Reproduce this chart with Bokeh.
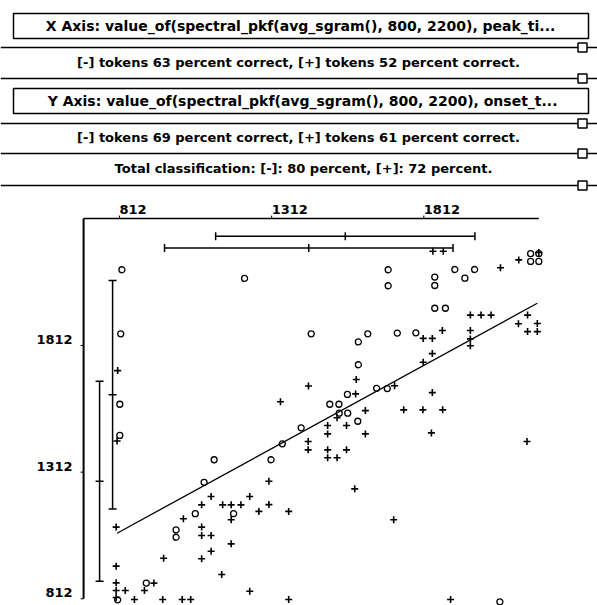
import math
from bokeh.plotting import figure
from bokeh.models import Range1d, Whisker, TeeHead, ColumnDataSource
from bokeh.core.properties import value
from bokeh.embed import file_html
from bokeh.resources import INLINE

# ---------------- data ----------------
header_texts = [
    "X Axis:  value_of(spectral_pkf(avg_sgram(), 800, 2200), peak_ti...",
    "[-] tokens 63 percent correct, [+] tokens 52 percent correct.",
    "Y Axis:  value_of(spectral_pkf(avg_sgram(), 800, 2200), onset_t...",
    "[-] tokens 69 percent correct, [+] tokens 61 percent correct.",
    "Total classification: [-]: 80 percent, [+]: 72 percent.",
]
tick_values = [812, 1312, 1812]
tick_labels = ["812", "1312", "1812"]

circle_x = [820, 816, 813, 813, 1223, 1695, 1695, 1442, 1597, 1628, 1725, 1597, 1561, 1657,
            1692, 1503, 1533, 1534, 1562, 1595, 1409, 1347, 1310, 1123, 1090, 1061, 1187, 998,
            998, 900, 806, 2062, 1786, 1848, 1848, 1848, 1883, 1914, 1947, 1979, 2163, 2190,
            2163, 2190]
circle_y = [2111, 1858, 1580, 1457, 2077, 2111, 2048, 1858, 1826, 1858, 1861, 1736, 1619, 1643,
            1642, 1580, 1580, 1545, 1545, 1513, 1487, 1424, 1361, 1361, 1272, 1148, 1148, 1084,
            1055, 874, 808, 800, 1862, 2082, 2049, 1959, 1959, 2112, 2078, 2112, 2175, 2175,
            2144, 2144]

plus_x = [806, 804, 1590, 1433, 1341, 1588, 1716, 1842, 1876, 2124, 2190, 2064, 1965, 2000,
          2033, 2153, 2123, 2185, 2153, 2185, 1810, 1840, 1873, 1965, 1965, 1965, 1840, 1810,
          1840, 1620, 1527, 1496, 1558, 1496, 1620, 1432, 1432, 1496, 1558, 1496, 1527, 1303,
          1585, 1240, 1211, 1303, 1270, 1368, 1713, 1240, 1368, 1746, 1809, 1874, 1837, 2151,
          1900, 1113, 1082, 1151, 1179, 1179, 1022, 801, 1082, 1082, 1113, 1179, 1113, 957,
          1082, 801, 1148, 801, 925, 801, 831, 894, 801, 861, 954, 1018, 1046]
plus_y = [1713, 1435, 1678, 1652, 1590, 1621, 1653, 2184, 2184, 2150, 2179, 2119, 1932, 1932,
          1932, 1932, 1898, 1899, 1867, 1867, 1840, 1840, 1871, 1871, 1838, 1811, 1780, 1746,
          1626, 1555, 1527, 1496, 1496, 1463, 1463, 1433, 1400, 1400, 1400, 1369, 1369, 1276,
          1246, 1216, 1183, 1184, 1157, 1157, 1124, 842, 809, 1558, 1558, 1558, 1467, 1433,
          809, 1216, 1183, 1183, 1183, 1124, 1128, 1095, 1095, 1062, 1062, 1029, 1000, 972,
          970, 941, 908, 875, 874, 845, 845, 845, 817, 809, 809, 809, 809]

fit_x = [804, 2185]
fit_y = [1071, 1979]

x_bar_mean = [1554, 1434]
x_bar_sd = [426, 474]
y_bar_mean = [1618, 1276]
y_bar_sd = [451, 395]

# plotted extent of the axes (data units)
axis_x_min, axis_x_max = 694, 2190
axis_y_min, axis_y_max = 812, 2313

# ---------------- layout ----------------
W, H = 597, 605
UX = 3.2862   # data units per pixel (x)
UY = 3.948    # data units per pixel (y)
X_ORIG_PX, Y_ORIG_PX = 119, 598.3   # pixel location of value 812 on each axis
XS = 812 - X_ORIG_PX * UX
XE = XS + W * UX
YE = 812 + Y_ORIG_PX * UY
YS = YE - H * UY

p = figure(width=W, height=H, x_range=Range1d(XS, XE), y_range=Range1d(YS, YE),
           x_axis_location=None, y_axis_location=None, toolbar_location=None,
           output_backend="svg", min_border=0)
p.grid.visible = False
p.outline_line_color = None
p.background_fill_color = "white"
p.border_fill_color = "white"
p.extra_x_ranges = {"px": Range1d(0, W)}
p.extra_y_ranges = {"py": Range1d(H, 0)}

FONT = value("DejaVu Sans")

# ---------------- header panel (pixel space) ----------------
p.quad(left=[13, 13], right=[588, 588], top=[13, 88], bottom=[38, 113],
       fill_color="white", line_color="black", line_width=1.5,
       x_range_name="px", y_range_name="py")
rule_y = [47, 78, 123, 153, 185]
p.segment(x0=[0] * 5, x1=[W] * 5, y0=rule_y, y1=rule_y, line_color="black",
          line_width=1.5, x_range_name="px", y_range_name="py")
p.scatter(x=[582] * 5, y=rule_y, marker="square", size=9, fill_color="white",
          line_color="black", line_width=1.5, x_range_name="px", y_range_name="py")
p.text(x=[302.5, 304.5], y=[25.5, 100.5], text=[header_texts[0], header_texts[2]],
       text_align="center", text_baseline="middle", text_font=FONT,
       text_font_style="bold", text_font_size="14px", text_color="black",
       x_range_name="px", y_range_name="py")
p.text(x=[298, 298, 303], y=[62, 137, 168],
       text=[header_texts[1], header_texts[3], header_texts[4]],
       text_align="center", text_baseline="middle", text_font=FONT,
       text_font_style="bold", text_font_size="13px", text_color="black",
       x_range_name="px", y_range_name="py")

# ---------------- axes ----------------
p.segment(x0=[axis_x_min], y0=[axis_y_max], x1=[axis_x_max], y1=[axis_y_max],
          line_color="black", line_width=1.5)
p.segment(x0=[axis_x_min], y0=[axis_y_max], x1=[axis_x_min], y1=[axis_y_min],
          line_color="black", line_width=2)
# tick marks (3 px)
p.segment(x0=tick_values, y0=[axis_y_max] * 3, x1=tick_values,
          y1=[axis_y_max + 3 * UY] * 3, line_color="black", line_width=1)
p.segment(x0=[axis_x_min] * 3, y0=tick_values, x1=[axis_x_min - 3 * UX] * 3,
          y1=tick_values, line_color="black", line_width=1)
# tick labels
p.text(x=tick_values, y=[axis_y_max] * 3, text=tick_labels, y_offset=-5,
       text_align="left", text_baseline="bottom", text_font=FONT,
       text_font_style="bold", text_font_size="13px", text_color="black")
p.text(x=[axis_x_min] * 3, y=tick_values, text=tick_labels, x_offset=-11, y_offset=-6,
       text_align="right", text_baseline="middle", text_font=FONT,
       text_font_style="bold", text_font_size="13px", text_color="black")

# ---------------- mean / sd bars ----------------
vbar_x = [axis_x_min + 29 * UX, axis_x_min + 16 * UX]
hbar_y = [axis_y_max - 17.7 * UY, axis_y_max - 29.3 * UY]
vsrc = ColumnDataSource(dict(base=vbar_x,
                             lower=[m - s for m, s in zip(y_bar_mean, y_bar_sd)],
                             upper=[m + s for m, s in zip(y_bar_mean, y_bar_sd)]))
hsrc = ColumnDataSource(dict(base=hbar_y,
                             lower=[m - s for m, s in zip(x_bar_mean, x_bar_sd)],
                             upper=[m + s for m, s in zip(x_bar_mean, x_bar_sd)]))
for src, dim in ((vsrc, "height"), (hsrc, "width")):
    p.add_layout(Whisker(source=src, base="base", lower="lower", upper="upper",
                         dimension=dim, line_color="black", line_width=1.5,
                         upper_head=TeeHead(size=8, line_color="black", line_width=1.5),
                         lower_head=TeeHead(size=8, line_color="black", line_width=1.5)))
p.scatter(x=vbar_x, y=y_bar_mean, marker="dash", size=8, line_color="black", line_width=1.5)
p.scatter(x=x_bar_mean, y=hbar_y, marker="dash", angle=math.pi / 2, size=8,
          line_color="black", line_width=1.5)

# ---------------- fit line and points ----------------
p.line(fit_x, fit_y, line_color="black", line_width=1.3)
p.scatter(circle_x, circle_y, marker="circle", size=6, fill_color=None,
          line_color="black", line_width=1.3)
p.scatter(plus_x, plus_y, marker="cross", size=7, line_color="black", line_width=1.6)

open("out.html", "w").write(file_html(p, INLINE))
